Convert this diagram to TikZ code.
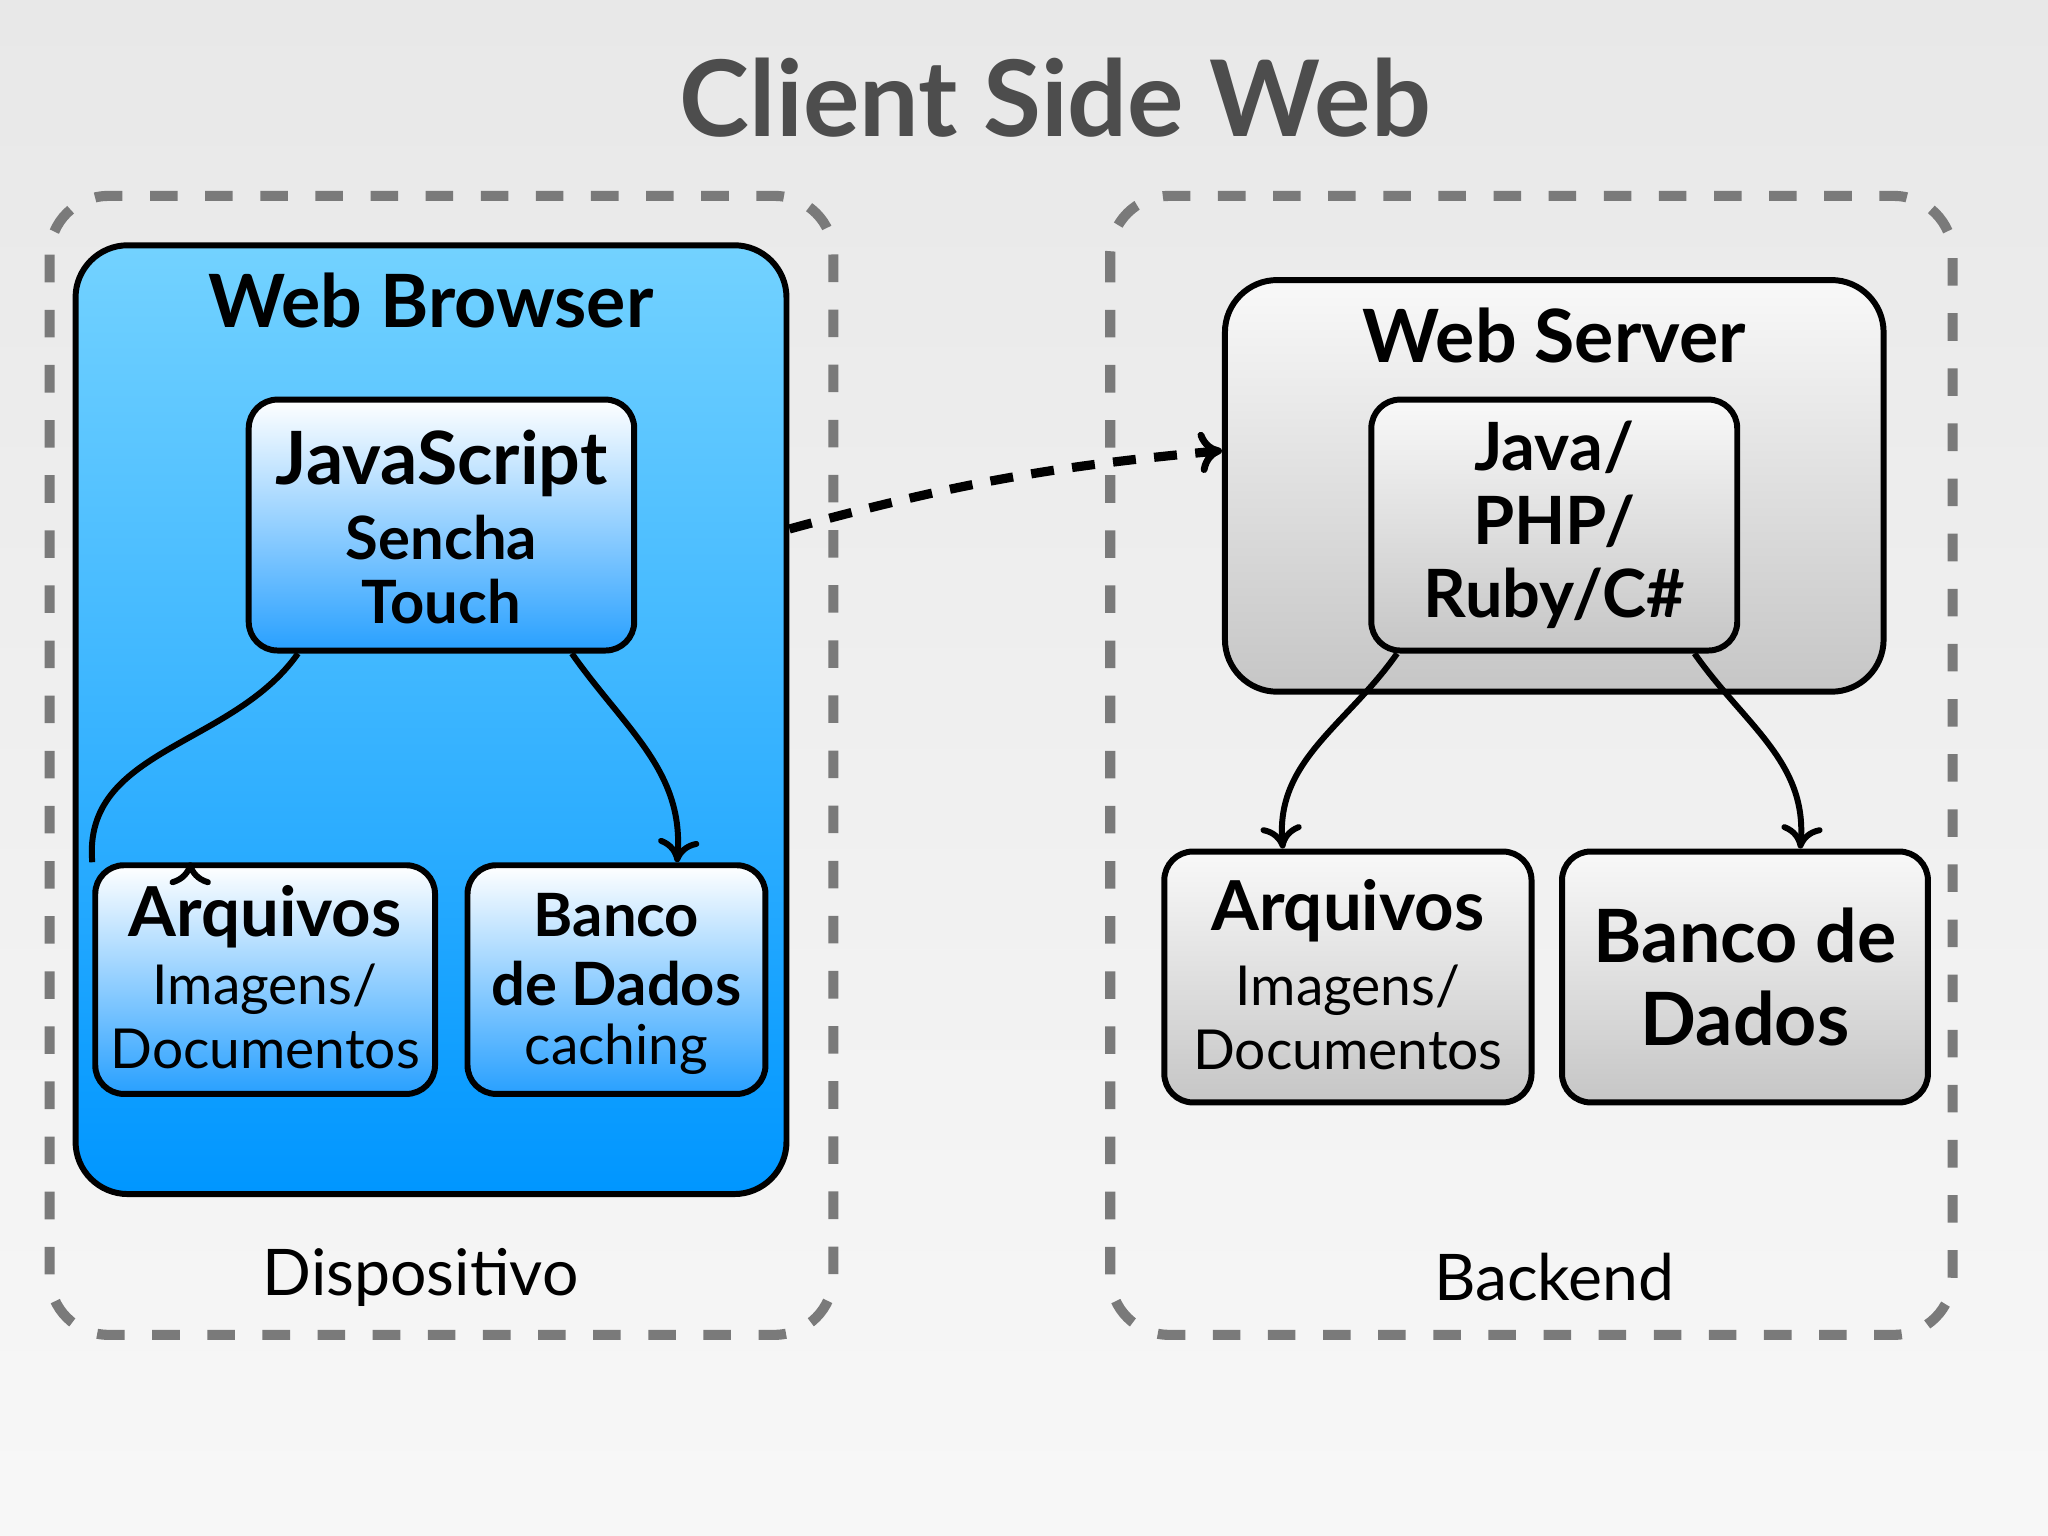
\documentclass[tikz,border=0pt]{standalone}
\usepackage{fontspec}
\setmainfont{Lato}
\usetikzlibrary{arrows.meta}
\definecolor{ttl}{HTML}{4D4D4D}
\definecolor{dash}{HTML}{7A7A7A}
\tikzset{
 outer/.style={draw=dash,line width=2.2pt,dash pattern=on 6pt off 6pt,rounded corners=0.45cm},
 bluebig/.style={draw=black,line width=1.3pt,rounded corners=0.4cm,top color=blue!0!cyan!45!white!70!blue!10,bottom color=blue!0!cyan!40!blue!100},
 blue/.style={draw=black,line width=1.3pt,rounded corners=0.22cm,top color=white,bottom color=cyan!60!blue!80},
 gray/.style={draw=black,line width=1.3pt,rounded corners=0.22cm,top color=gray!5,bottom color=gray!45},
 conn/.style={line width=1.3pt,-{To[length=5pt,width=9pt,line width=1.3pt]}},
 hd/.style={font=\bfseries\fontsize{16}{18}\selectfont,align=center},
}
\begin{document}
\begin{tikzpicture}[x=0.01cm,y=-0.01cm]
\shade[top color=gray!18,bottom color=gray!6] (0,0) rectangle (1568,1176);
\useasboundingbox (0,0) rectangle (1568,1176);
\node[font=\bfseries\fontsize{23}{26}\selectfont,text=ttl] (title) at (808,75) {Client Side Web};
\draw[outer] (38,150) rectangle (638,1022);
\draw[outer] (850,150) rectangle (1495,1022);
\node[draw=black,line width=1.3pt,rounded corners=0.4cm,top color={rgb,255:red,115;green,210;blue,255},bottom color={rgb,255:red,0;green,150;blue,255},minimum width=5.44cm,minimum height=7.26cm] (wb) at (330,551) {};
\node[hd] at (330,230) {Web Browser};
\node[blue,minimum width=2.95cm,minimum height=1.92cm,top color=white,bottom color={rgb,255:red,40;green,160;blue,255}] (js) at (338,402) {};
\node[font=\bfseries\fontsize{16}{18}\selectfont] at (338,355) {JavaScript};
\node[font=\bfseries\fontsize{13}{15}\selectfont,align=center] at (338,436) {Sencha\\[-1pt]Touch};
\node[blue,minimum width=2.6cm,minimum height=1.75cm,bottom color={rgb,255:red,40;green,160;blue,255}] (arq1) at (203,750) {};
\node[font=\bfseries\fontsize{15}{17}\selectfont] at (203,702) {Arquivos};
\node[font=\fontsize{12}{14}\selectfont,align=center] at (203,778) {Imagens/\\Documentos};
\node[blue,minimum width=2.28cm,minimum height=1.75cm,bottom color={rgb,255:red,40;green,160;blue,255}] (bd1) at (472,750) {};
\node[font=\bfseries\fontsize{13}{15}\selectfont,align=center] at (472,727) {Banco\\de Dados};
\node[font=\fontsize{12}{14}\selectfont] at (472,803) {caching};
\node[font=\fontsize{14}{16}\selectfont] (disp) at (322,978) {Dispositivo};
\node[gray,rounded corners=0.4cm,minimum width=5.04cm,minimum height=3.15cm] (ws) at (1190,372) {};
\node[hd] at (1190,257) {Web Server};
\node[gray,minimum width=2.8cm,minimum height=1.92cm] (java) at (1190,402) {};
\node[font=\bfseries\fontsize{14.5}{16}\selectfont,align=center] at (1190,402) {Java/\\PHP/\\Ruby/C\#};
\node[gray,minimum width=2.81cm,minimum height=1.92cm] (arq2) at (1032,748) {};
\node[font=\bfseries\fontsize{15}{17}\selectfont] at (1032,697) {Arquivos};
\node[font=\fontsize{12}{14}\selectfont,align=center] at (1032,779) {Imagens/\\Documentos};
\node[gray,minimum width=2.8cm,minimum height=1.92cm] (bd2) at (1336,748) {};
\node[font=\bfseries\fontsize{16}{18}\selectfont,align=center] at (1336,748) {Banco de\\Dados};
\node[font=\fontsize{14}{16}\selectfont] (back) at (1190,978) {Backend};
\draw[conn] (js.south west)++(40,0) to[out=-125,in=95] (arq1.north west)++(75,0);
\draw[conn] ([xshift=-0.5cm]js.south east) to[out=-55,in=85] ([xshift=-0.7cm]bd1.north east);
\draw[conn] ([xshift=0.22cm]java.south west) to[out=-125,in=95] ([xshift=0.93cm]arq2.north west);
\draw[conn] ([xshift=-0.35cm]java.south east) to[out=-55,in=85] ([xshift=-1.0cm]bd2.north east);
\draw[line width=2pt,dash pattern=on 5pt off 4pt,-{To[length=5pt,width=9pt,line width=1.5pt]}] (wb.east |- 0,405) to[bend left=5] (ws.west |- 0,345);
\end{tikzpicture}
\end{document}
